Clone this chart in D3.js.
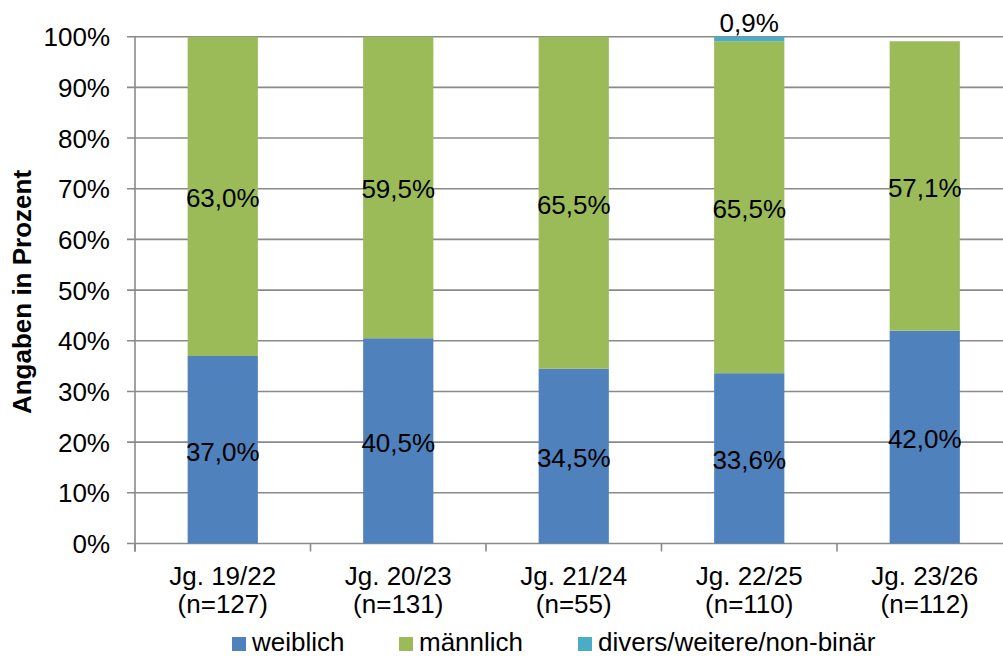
<!DOCTYPE html>
<html><head><meta charset="utf-8">
<script src="https://cdn.jsdelivr.net/npm/d3@7"></script>
<style>
html,body{margin:0;padding:0;background:#fff;}
svg text{font-family:"Liberation Sans",Arial,sans-serif;fill:#000;}
</style></head>
<body><svg id="chart" width="1003" height="657"></svg>
<script>
const categories = ["Jg. 19/22","Jg. 20/23","Jg. 21/24","Jg. 22/25","Jg. 23/26"];
const sampleSizes = ["(n=127)","(n=131)","(n=55)","(n=110)","(n=112)"];
const weiblich = [37.0, 40.5, 34.5, 33.6, 42.0];
const maennlich = [63.0, 59.5, 65.5, 65.5, 57.1];
const divers = [0, 0, 0, 0.9, 0];
const seriesNames = ["weiblich","männlich","divers/weitere/non-binär"];
const yTicks = [0,10,20,30,40,50,60,70,80,90,100];
const colors = ["#4F81BD","#9BBB59","#4BACC6"];

(function(){
const svg = d3.select("#chart");
const mLeft = 135, mRight = 1012.5, mTop = 36.7, mBottom = 543.5;
const y = d3.scaleLinear().domain([0,100]).range([mBottom, mTop]);
const x = d3.scaleBand().domain(categories).range([mLeft, mRight]).paddingInner(0.6).paddingOuter(0.3);
const step = x.step();
const fmt = v => d3.format(".1f")(v).replace(".", ",") + "%";
const gridColor = "#8a8a8a";

// gridlines + y ticks
svg.append("g").selectAll("line").data(yTicks).join("line")
  .attr("x1", mLeft - 8).attr("x2", 1003)
  .attr("y1", d => y(d)).attr("y2", d => y(d))
  .attr("stroke", gridColor).attr("stroke-width", 1.6);
svg.append("g").selectAll("text").data(yTicks).join("text")
  .attr("x", 110).attr("y", d => y(d) + 9.5)
  .attr("text-anchor", "end").attr("font-size", 26)
  .text(d => d + "%");

// y axis line
svg.append("line").attr("x1", mLeft).attr("x2", mLeft).attr("y1", y(100)).attr("y2", y(0) + 8)
  .attr("stroke", gridColor).attr("stroke-width", 1.6);
// x tick marks at category boundaries
const bounds = categories.map((c,i) => mLeft + i*step).concat([mLeft + categories.length*step]);
svg.append("g").selectAll("line").data(bounds).join("line")
  .attr("x1", d => d).attr("x2", d => d).attr("y1", y(0)).attr("y2", y(0) + 8)
  .attr("stroke", gridColor).attr("stroke-width", 1.6);

// stacked bars
const rows = categories.map((c,i) => ({cat:c, weiblich:weiblich[i], "männlich":maennlich[i], "divers/weitere/non-binär":divers[i]}));
const stacked = d3.stack().keys(seriesNames)(rows);
const g = svg.append("g");
stacked.forEach((layer, li) => {
  g.append("g").selectAll("rect").data(layer).join("rect")
    .attr("x", d => x(d.data.cat)).attr("width", x.bandwidth())
    .attr("y", d => y(d[1])).attr("height", d => y(d[0]) - y(d[1]))
    .attr("fill", colors[li]);
});
// labels
stacked.forEach((layer, li) => {
  g.append("g").selectAll("text").data(layer.filter(d => d[1]-d[0] > 0)).join("text")
    .attr("x", d => x(d.data.cat) + x.bandwidth()/2)
    .attr("y", d => li === 2 ? y(d[1]) - 5 : (y(d[0]) + y(d[1]))/2 + 11)
    .attr("text-anchor", "middle").attr("font-size", 26)
    .text(d => fmt(d[1]-d[0]));
});

// x labels
const xl = svg.append("g");
categories.forEach((c,i) => {
  const cx = x(c) + x.bandwidth()/2;
  xl.append("text").attr("x", cx).attr("y", 585).attr("text-anchor","middle").attr("font-size",26).text(c);
  xl.append("text").attr("x", cx).attr("y", 613).attr("text-anchor","middle").attr("font-size",26).text(sampleSizes[i]);
});

// axis title
svg.append("text").attr("transform", "translate(31,292) rotate(-90)")
  .attr("text-anchor","middle").attr("font-size",26).attr("font-weight","bold")
  .text("Angaben in Prozent");

// legend
const legX = [232, 399, 578];
const leg = svg.append("g");
seriesNames.forEach((s,i) => {
  leg.append("rect").attr("x", legX[i]).attr("y", 637).attr("width", 14).attr("height", 14).attr("fill", colors[i]);
  leg.append("text").attr("x", legX[i] + 20).attr("y", 651).attr("font-size", 26).text(s);
});
})();
</script></body></html>
